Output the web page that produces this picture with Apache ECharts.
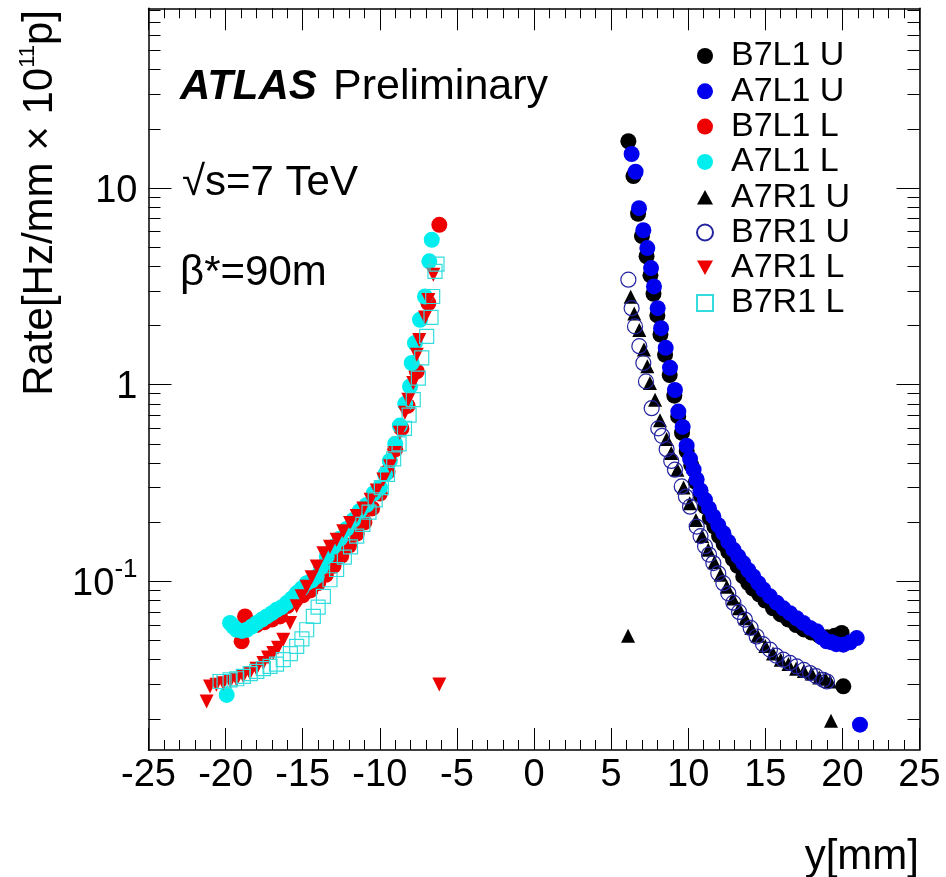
<!DOCTYPE html>
<html><head><meta charset="utf-8">
<script src="https://cdn.jsdelivr.net/npm/echarts@6/dist/echarts.min.js"></script>
<style>html,body{margin:0;padding:0;background:#fff}#c{width:946px;height:877px}</style>
</head><body><div id="c"></div>
<script>
// ---------- data (y [mm], rate) ----------
const seriesNames = ['B7L1 U','A7L1 U','B7L1 L','A7L1 L','A7R1 U','B7R1 U','A7R1 L','B7R1 L'];

const B7L1_U = [[6.12,17.3],[6.45,11.5],[6.75,7.4],[7.0,5.7],[7.3,4.5],[7.55,3.6],[7.75,2.9],[8.0,2.25],[8.2,1.8],[8.5,1.42],[8.8,1.12],[9.1,0.88],[9.35,0.69],[9.6,0.57],[9.9,0.46],[10.2,0.39],[10.5,0.32],[10.8,0.275],[11.1,0.24],[11.4,0.21],[11.7,0.19],[12.0,0.17],[12.3,0.155],[12.6,0.142],[12.9,0.13],[13.2,0.12],[13.57,0.106],[13.9,0.098],[14.2,0.092],[14.6,0.086],[15.0,0.08],[15.5,0.073],[16.0,0.068],[16.5,0.064],[17.0,0.06],[17.5,0.057],[18.0,0.055],[18.5,0.053],[19.0,0.052],[19.5,0.053],[19.95,0.0547],[20.06,0.0293]];

const A7L1_U = [[6.33,14.9],[6.59,12.1],[6.81,7.9],[7.09,6.1],[7.35,4.95],[7.59,3.92],[7.78,3.16],[8.02,2.45],[8.24,1.94],[8.54,1.54],[8.82,1.22],[9.14,0.94],[9.36,0.73],[9.64,0.61],[9.9,0.49],[10.12,0.42],[10.35,0.37],[10.55,0.33],[10.8,0.29],[11.09,0.26],[11.35,0.235],[11.63,0.214],[11.95,0.193],[12.28,0.176],[12.6,0.159],[12.93,0.145],[13.25,0.134],[13.57,0.124],[13.9,0.114],[14.22,0.106],[14.55,0.098],[14.87,0.091],[15.3,0.084],[15.74,0.078],[16.17,0.073],[16.6,0.069],[17.03,0.065],[17.46,0.0615],[17.9,0.058],[18.33,0.0558],[18.65,0.052],[18.98,0.0496],[19.3,0.049],[19.6,0.048],[20.06,0.0477],[20.5,0.049],[20.93,0.0515],[21.14,0.0187]];

const B7L1_L = [[-6.14,6.5],[-6.85,2.6],[-7.6,1.17],[-8.2,0.78],[-8.6,0.6],[-9.0,0.47],[-9.5,0.36],[-10.0,0.28],[-10.5,0.235],[-11.0,0.2],[-11.5,0.175],[-12.0,0.152],[-12.5,0.135],[-13.0,0.12],[-13.5,0.108],[-14.0,0.098],[-14.5,0.09],[-15.0,0.085],[-15.5,0.08],[-16.0,0.075],[-16.47,0.0664],[-17.0,0.064],[-17.5,0.062],[-18.0,0.06],[-18.5,0.059],[-18.74,0.0664],[-18.96,0.0496]];

const A7L1_L = [[-6.63,5.46],[-6.79,4.24],[-7.07,2.81],[-7.39,2.14],[-7.72,1.63],[-7.93,1.29],[-8.04,0.98],[-8.35,0.8],[-8.7,0.62],[-9.0,0.5],[-9.35,0.41],[-9.65,0.35],[-9.99,0.30],[-10.4,0.28],[-10.85,0.245],[-11.3,0.228],[-11.72,0.205],[-12.15,0.185],[-12.58,0.165],[-13.0,0.15],[-13.44,0.134],[-13.8,0.118],[-14.09,0.106],[-14.42,0.101],[-14.74,0.098],[-15.07,0.092],[-15.39,0.0873],[-15.7,0.082],[-16.04,0.0776],[-16.36,0.074],[-16.69,0.0718],[-17.0,0.069],[-17.33,0.0664],[-17.65,0.064],[-17.98,0.0615],[-18.3,0.059],[-18.63,0.0568],[-18.95,0.056],[-19.28,0.0568],[-19.5,0.059],[-19.71,0.0615],[-19.93,0.0265]];

const A7R1_U = [[6.1,0.053],[6.27,2.8],[6.5,2.3],[6.83,1.9],[7.13,1.51],[7.35,1.24],[7.52,1.02],[7.85,0.84],[8.17,0.66],[8.6,0.53],[8.9,0.45],[9.3,0.37],[9.7,0.3],[10.1,0.25],[10.5,0.205],[10.9,0.17],[11.3,0.145],[11.7,0.125],[12.1,0.108],[12.5,0.094],[12.9,0.082],[13.3,0.073],[13.7,0.065],[14.1,0.058],[14.5,0.053],[15.0,0.047],[15.5,0.043],[16.0,0.04],[16.5,0.038],[17.0,0.036],[17.5,0.035],[18.0,0.034],[18.5,0.0325],[18.9,0.032],[19.2,0.031],[19.26,0.0196]];

const B7R1_U = [[6.12,3.42],[6.33,2.45],[6.55,1.98],[6.83,1.57],[7.09,1.29],[7.26,1.04],[7.63,0.76],[8.06,0.6],[8.3,0.55],[8.6,0.47],[8.9,0.41],[9.14,0.37],[9.58,0.304],[9.85,0.27],[10.12,0.24],[10.55,0.19],[10.8,0.17],[11.09,0.151],[11.35,0.137],[11.63,0.124],[11.95,0.11],[12.28,0.098],[12.6,0.087],[12.93,0.078],[13.3,0.07],[13.68,0.064],[14.05,0.058],[14.44,0.0525],[14.85,0.048],[15.3,0.045],[15.7,0.042],[16.17,0.04],[16.6,0.0385],[17.04,0.037],[17.5,0.0355],[17.9,0.0342],[18.3,0.033],[18.76,0.0316],[19.0,0.031]];

const A7R1_L = [[-6.14,0.0299],[-6.53,3.62],[-6.85,2.7],[-7.07,2.2],[-7.44,1.69],[-7.6,1.42],[-7.83,1.02],[-8.15,0.84],[-8.37,0.72],[-8.7,0.57],[-9.01,0.45],[-9.34,0.385],[-9.77,0.33],[-10.2,0.29],[-10.6,0.26],[-11.07,0.235],[-11.5,0.215],[-11.93,0.198],[-12.37,0.18],[-12.8,0.163],[-13.23,0.15],[-13.66,0.139],[-14.09,0.119],[-14.42,0.105],[-14.74,0.094],[-15.07,0.084],[-15.39,0.0747],[-15.82,0.0615],[-16.26,0.0506],[-16.6,0.046],[-16.91,0.0433],[-17.25,0.041],[-17.55,0.0385],[-18.0,0.036],[-18.42,0.0342],[-18.85,0.033],[-19.28,0.0316],[-19.7,0.031],[-20.15,0.0304],[-20.6,0.0298],[-21.01,0.0292],[-21.23,0.0245]];

const B7R1_L = [[-6.29,4.1],[-6.42,3.77],[-6.57,2.81],[-6.68,2.2],[-6.96,1.76],[-7.28,1.37],[-7.5,1.08],[-7.83,0.84],[-8.1,0.7],[-8.4,0.6],[-8.75,0.5],[-9.1,0.42],[-9.5,0.35],[-9.9,0.3],[-10.3,0.26],[-10.7,0.225],[-11.1,0.195],[-11.5,0.17],[-11.9,0.15],[-12.3,0.133],[-12.8,0.115],[-13.23,0.102],[-13.66,0.084],[-14.0,0.074],[-14.31,0.0664],[-14.74,0.0568],[-15.05,0.051],[-15.39,0.0468],[-15.8,0.043],[-16.26,0.04],[-16.7,0.038],[-17.12,0.037],[-17.55,0.036],[-17.98,0.0349],[-18.4,0.034],[-18.85,0.0329],[-19.28,0.032],[-19.71,0.0316],[-20.1,0.031],[-20.36,0.031]];

// axis ticks
const xMin = -25, xMax = 25, xStep = 5;
const yMin = 0.0139, yMax = 82;
const yMajorTicks = [0.1, 1, 10];
const yMinorTicks = [0.02,0.03,0.04,0.05,0.06,0.07,0.08,0.09,0.2,0.3,0.4,0.5,0.6,0.7,0.8,0.9,2,3,4,5,6,7,8,9,20,30,40,50,60,70,80];

const FONT = '"Liberation Sans", Arial, Helvetica, sans-serif';

const chart = echarts.init(document.getElementById('c'), null, {renderer: 'canvas'});

const axisLineOn = {show: true, onZero: false, lineStyle: {color: '#000', width: 1.5}};
const axisLineOff = {show: false, onZero: false};
function xAxisDef(pos, showLabel) {
  return {
    type: 'value', position: pos, min: xMin, max: xMax, interval: xStep,
    axisLine: axisLineOn,
    axisTick: {show: true, inside: true, length: 22, lineStyle: {color: '#000', width: 1}},
    minorTick: {show: true, splitNumber: 5, length: 10, lineStyle: {color: '#000', width: 1}},
    splitLine: {show: false}, minorSplitLine: {show: false},
    axisLabel: {show: showLabel, fontFamily: FONT, fontSize: 38, color: '#000', margin: 7}
  };
}
function yAxisDef(pos, ticks, len, showLabel, showLine) {
  return {
    type: 'log', logBase: 10, position: pos, min: yMin, max: yMax,
    axisLine: showLine ? axisLineOn : axisLineOff,
    axisTick: {show: true, inside: true, length: len, customValues: ticks, lineStyle: {color: '#000', width: 1}},
    splitLine: {show: false},
    axisLabel: {
      show: showLabel, customValues: yMajorTicks, margin: 11, color: '#000', fontFamily: FONT, fontSize: 38,
      formatter: function (v) {
        if (Math.abs(v - 0.1) < 1e-9) return '{b|10}{s|-1}';
        if (Math.abs(v - 1) < 1e-9) return '{b|1}';
        if (Math.abs(v - 10) < 1e-9) return '{b|10}';
        return '';
      },
      rich: {
        b: {fontFamily: FONT, fontSize: 38, color: '#000', lineHeight: 50, padding: [6, 0, 0, 0]},
        s: {fontFamily: FONT, fontSize: 26, color: '#000', lineHeight: 26, verticalAlign: 'top'}
      }
    }
  };
}

function sc(name, data, symbol, size, fill, stroke, rotate) {
  return {
    name: name, type: 'scatter', data: data, symbol: symbol, symbolSize: size, symbolRotate: rotate || 0,
    symbolKeepAspect: true,
    xAxisIndex: 0, yAxisIndex: 0, silent: true, animation: false,
    itemStyle: {color: fill, borderColor: stroke || fill, borderWidth: stroke ? 1.2 : 0, opacity: 1}
  };
}

const downTri = 'path://M0,0 L20,0 L10,18 Z';
const upTri = 'path://M10,0 L20,18 L0,18 Z';

const option = {
  animation: false,
  backgroundColor: '#fff',
  grid: {left: 148.5, right: 26.5, top: 8.3, bottom: 127, containLabel: false},
  xAxis: [xAxisDef('bottom', true), xAxisDef('top', false)],
  yAxis: [
    yAxisDef('left', yMajorTicks, 23, true, true),
    yAxisDef('left', yMinorTicks, 12, false, false),
    yAxisDef('right', yMajorTicks, 23, false, true),
    yAxisDef('right', yMinorTicks, 12, false, false)
  ],
  legend: {
    orient: 'vertical', left: 691, top: 34, itemWidth: 16, itemHeight: 16, itemGap: 1.3,
    data: [
      {name: 'B7L1 U'}, {name: 'A7L1 U'}, {name: 'B7L1 L'}, {name: 'A7L1 L'},
      {name: 'A7R1 U', icon: upTri}, {name: 'B7R1 U'}, {name: 'A7R1 L', icon: downTri}, {name: 'B7R1 L'}
    ],
    textStyle: {fontFamily: FONT, fontSize: 34, color: '#000', lineHeight: 16, padding: [0, 0, 0, 13]},
    selectedMode: false
  },
  series: [
    sc('B7L1 U', B7L1_U, 'circle', 16, '#000000'),
    sc('A7L1 U', A7L1_U, 'circle', 16, '#0000ee'),
    sc('B7L1 L', B7L1_L, 'circle', 16, '#ee0000'),
    sc('A7L1 L', A7L1_L, 'circle', 16, '#00eeee'),
    sc('A7R1 U', A7R1_U, 'triangle', 14, '#000000'),
    sc('B7R1 U', B7R1_U, 'circle', 15, 'rgba(0,0,0,0)', '#2424a0'),
    sc('A7R1 L', A7R1_L, 'triangle', 14, '#ee0000', null, 180),
    sc('B7R1 L', B7R1_L, 'rect', 14, 'rgba(0,0,0,0)', '#33dddd')
  ],
  graphic: [
    {type: 'text', x: 180, y: 87, style: {text: 'ATLAS', font: 'italic bold 42px ' + FONT, fill: '#000', verticalAlign: 'middle'}},
    {type: 'text', x: 333, y: 87, style: {text: 'Preliminary', font: '43px ' + FONT, fill: '#000', verticalAlign: 'middle'}},
    {type: 'text', x: 182, y: 183, style: {text: '√s=7 TeV', font: '42px ' + FONT, fill: '#000', verticalAlign: 'middle'}},
    {type: 'text', x: 180, y: 273, style: {text: 'β*=90m', font: '42px ' + FONT, fill: '#000', verticalAlign: 'middle'}},
    {type: 'text', x: 919, y: 857, style: {text: 'y[mm]', font: '42px ' + FONT, fill: '#000', align: 'right', verticalAlign: 'middle'}},
    {type: 'text', x: 40, y: 10, rotation: Math.PI / 2,
     style: {text: '{a|Rate[Hz/mm × 10}{s|11}{a|p]}', align: 'right', verticalAlign: 'middle',
             rich: {a: {font: '42px ' + FONT, fill: '#000', lineHeight: 46},
                    s: {font: '22px ' + FONT, fill: '#000', lineHeight: 22, verticalAlign: 'top'}}}}
  ]
};
chart.setOption(option);
</script></body></html>
